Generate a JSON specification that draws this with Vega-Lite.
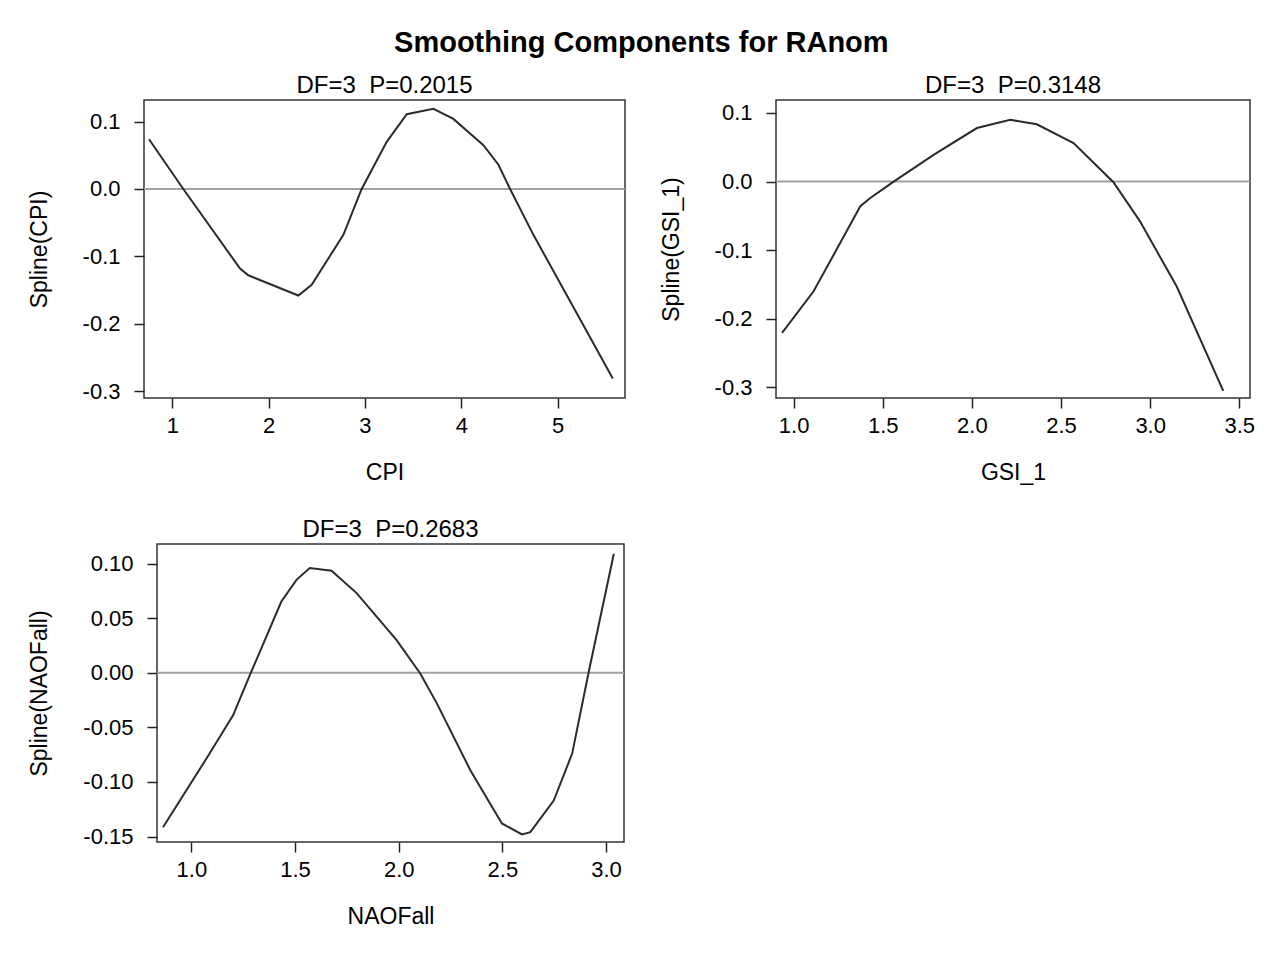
{
  "$schema": "https://vega.github.io/schema/vega-lite/v6.json",
  "background": "white",
  "padding": {"left": 27, "top": 29, "right": 10, "bottom": 10},
  "title": {"text": "Smoothing Components for RAnom", "fontSize": 29, "fontWeight": "bold", "font": "Liberation Sans", "color": "#000", "anchor": "middle", "offset": 15},
  "config": {
    "font": "Liberation Sans",
    "locale": {"number": {"decimal": ".", "thousands": ",", "grouping": [3], "currency": ["$", ""], "minus": "-"}},
    "view": {"stroke": "#333", "strokeWidth": 1.5},
    "axis": {"domain": false, "grid": false, "tickColor": "#222", "tickWidth": 1.5, "tickSize": 10, "labelColor": "#000", "titleColor": "#000", "labelFontSize": 22, "titleFontSize": 23, "titleFontWeight": "normal", "labelFont": "Liberation Sans", "titleFont": "Liberation Sans"},
    "axisX": {"labelPadding": 7, "titlePadding": 25},
    "axisY": {"labelPadding": 14, "titlePadding": 31},
    "title": {"fontSize": 24, "fontWeight": "normal", "color": "#000", "offset": 2}
  },
  "concat": [
    {
      "concat": [
        {
          "width": 481, "height": 298,
          "title": {"text": "DF=3\u00a0\u00a0P=0.2015"},
          "layer": [
            {"data": {"values": [{"ref": 0}]}, "mark": {"type": "rule", "color": "#a0a0a0", "strokeWidth": 2}, "encoding": {"y": {"field": "ref", "type": "quantitative"}}},
            {
              "data": {"values": [
                {"CPI": 0.758, "spline": 0.0737},
                {"CPI": 1.114, "spline": 0.0},
                {"CPI": 1.703, "spline": -0.118},
                {"CPI": 1.789, "spline": -0.128},
                {"CPI": 2.308, "spline": -0.158},
                {"CPI": 2.447, "spline": -0.142},
                {"CPI": 2.776, "spline": -0.068},
                {"CPI": 2.966, "spline": 0.0},
                {"CPI": 3.226, "spline": 0.070},
                {"CPI": 3.434, "spline": 0.111},
                {"CPI": 3.711, "spline": 0.119},
                {"CPI": 3.918, "spline": 0.104},
                {"CPI": 4.230, "spline": 0.065},
                {"CPI": 4.386, "spline": 0.036},
                {"CPI": 4.507, "spline": 0.0},
                {"CPI": 4.749, "spline": -0.068},
                {"CPI": 5.268, "spline": -0.202},
                {"CPI": 5.573, "spline": -0.281}
              ]},
              "mark": {"type": "line", "color": "#2b2b2b", "strokeWidth": 2},
              "encoding": {
                "x": {"field": "CPI", "type": "quantitative", "scale": {"domain": [0.706, 5.70], "nice": false, "zero": false}, "axis": {"title": "CPI", "values": [1, 2, 3, 4, 5], "format": "d"}},
                "y": {"field": "spline", "type": "quantitative", "scale": {"domain": [-0.310, 0.132], "nice": false, "zero": false}, "axis": {"title": "Spline(CPI)", "values": [-0.3, -0.2, -0.1, 0.0, 0.1], "format": ".1f"}}
              }
            }
          ]
        },
        {
          "hconcat": [
            {
              "width": 1, "height": 1,
              "view": {"stroke": null},
              "data": {"values": [{"spacer": 0}]},
              "mark": {"type": "point", "opacity": 0, "size": 0},
              "encoding": {}
            },
            {
              "width": 467, "height": 298,
              "title": {"text": "DF=3\u00a0\u00a0P=0.2683"},
              "layer": [
                {"data": {"values": [{"ref": 0}]}, "mark": {"type": "rule", "color": "#a0a0a0", "strokeWidth": 2}, "encoding": {"y": {"field": "ref", "type": "quantitative"}}},
                {
                  "data": {"values": [
                    {"NAOFall": 0.863, "spline": -0.1415},
                    {"NAOFall": 1.072, "spline": -0.0787},
                    {"NAOFall": 1.201, "spline": -0.0389},
                    {"NAOFall": 1.289, "spline": 0.001},
                    {"NAOFall": 1.434, "spline": 0.0653},
                    {"NAOFall": 1.507, "spline": 0.0852},
                    {"NAOFall": 1.571, "spline": 0.096},
                    {"NAOFall": 1.676, "spline": 0.0935},
                    {"NAOFall": 1.797, "spline": 0.073},
                    {"NAOFall": 1.990, "spline": 0.030},
                    {"NAOFall": 2.104, "spline": -0.0006},
                    {"NAOFall": 2.184, "spline": -0.028},
                    {"NAOFall": 2.345, "spline": -0.089},
                    {"NAOFall": 2.498, "spline": -0.138},
                    {"NAOFall": 2.595, "spline": -0.148},
                    {"NAOFall": 2.635, "spline": -0.146},
                    {"NAOFall": 2.748, "spline": -0.117},
                    {"NAOFall": 2.837, "spline": -0.074},
                    {"NAOFall": 2.917, "spline": 0.001},
                    {"NAOFall": 3.038, "spline": 0.109}
                  ]},
                  "mark": {"type": "line", "color": "#2b2b2b", "strokeWidth": 2},
                  "encoding": {
                    "x": {"field": "NAOFall", "type": "quantitative", "scale": {"domain": [0.834, 3.087], "nice": false, "zero": false}, "axis": {"title": "NAOFall", "values": [1.0, 1.5, 2.0, 2.5, 3.0], "format": ".1f"}},
                    "y": {"field": "spline", "type": "quantitative", "scale": {"domain": [-0.155, 0.118], "nice": false, "zero": false}, "axis": {"title": "Spline(NAOFall)", "values": [-0.15, -0.10, -0.05, 0.0, 0.05, 0.10], "format": ".2f"}}
                  }
                }
              ]
            }
          ],
          "spacing": -117
        }
      ],
      "columns": 1,
      "spacing": 32
    },
    {
      "width": 474, "height": 298,
      "title": {"text": "DF=3\u00a0\u00a0P=0.3148"},
      "layer": [
        {"data": {"values": [{"ref": 0}]}, "mark": {"type": "rule", "color": "#a0a0a0", "strokeWidth": 2}, "encoding": {"y": {"field": "ref", "type": "quantitative"}}},
        {
          "data": {"values": [
            {"GSI_1": 0.935, "spline": -0.2207},
            {"GSI_1": 1.112, "spline": -0.160},
            {"GSI_1": 1.374, "spline": -0.036},
            {"GSI_1": 1.430, "spline": -0.024},
            {"GSI_1": 1.561, "spline": 0.0},
            {"GSI_1": 1.785, "spline": 0.039},
            {"GSI_1": 2.028, "spline": 0.078},
            {"GSI_1": 2.215, "spline": 0.090},
            {"GSI_1": 2.364, "spline": 0.0835},
            {"GSI_1": 2.570, "spline": 0.056},
            {"GSI_1": 2.794, "spline": -0.001},
            {"GSI_1": 2.943, "spline": -0.058},
            {"GSI_1": 3.149, "spline": -0.153},
            {"GSI_1": 3.410, "spline": -0.305}
          ]},
          "mark": {"type": "line", "color": "#2b2b2b", "strokeWidth": 2},
          "encoding": {
            "x": {"field": "GSI_1", "type": "quantitative", "scale": {"domain": [0.901, 3.56], "nice": false, "zero": false}, "axis": {"title": "GSI_1", "values": [1.0, 1.5, 2.0, 2.5, 3.0, 3.5], "format": ".1f"}},
            "y": {"field": "spline", "type": "quantitative", "scale": {"domain": [-0.3155, 0.1189], "nice": false, "zero": false}, "axis": {"title": "Spline(GSI_1)", "values": [-0.3, -0.2, -0.1, 0.0, 0.1], "format": ".1f"}}
          }
        }
      ]
    }
  ],
  "columns": 2,
  "spacing": 32
}
